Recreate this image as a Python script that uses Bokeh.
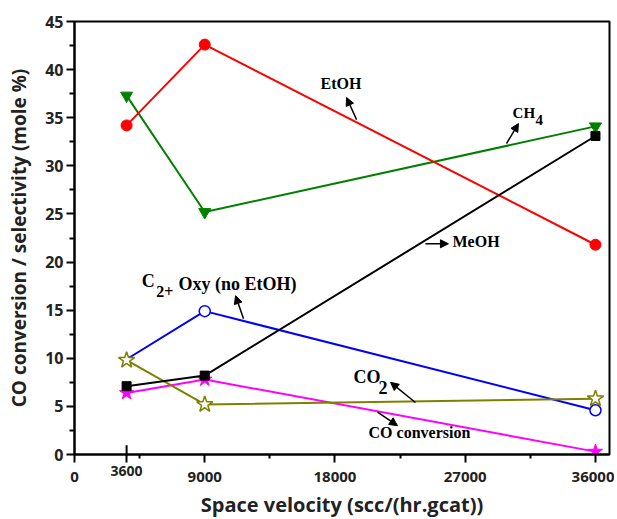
from bokeh.plotting import figure
from bokeh.models import FixedTicker, Label, Arrow, NormalHead, Range1d, LinearAxis
from bokeh.embed import file_html
from bokeh.resources import INLINE

# ---- data ----
space_velocity = [3600, 9000, 36000]
etoh = [34.2, 42.6, 21.8]
ch4 = [37.3, 25.2, 34.1]
meoh = [7.1, 8.2, 33.1]
c2_oxy = [9.9, 14.9, 4.6]
co2 = [9.8, 5.2, 5.8]
co_conversion = [6.4, 7.8, 0.3]

x_major = [0, 3600, 9000, 18000, 27000, 36000]
x_minor = [4500, 13500, 22500, 31500]
y_major = [0, 5, 10, 15, 20, 25, 30, 35, 40, 45]
y_minor = [2.5, 7.5, 12.5, 17.5, 22.5, 27.5, 32.5, 37.5, 42.5]

p = figure(frame_width=535, frame_height=433,
           x_range=Range1d(0, 36970), y_range=Range1d(0, 45),
           x_axis_location=None,
           output_backend="svg", toolbar_location=None,
           min_border_left=74, min_border_top=21, min_border_right=5, min_border_bottom=40)
p.background_fill_color = "white"
p.border_fill_color = "white"
p.grid.visible = False
p.outline_line_color = "black"
p.outline_line_width = 2
p.outline_line_alpha = 1

TXT = "#222222"

# axis A: all ticks, only the (raised) 3600 label
xa = LinearAxis(ticker=FixedTicker(ticks=x_major, minor_ticks=x_minor))
xa.major_label_overrides = {t: ("" if t != 3600 else "3600") for t in x_major}
xa.major_tick_in = 0
xa.major_tick_out = 8
xa.minor_tick_in = 0
xa.minor_tick_out = 4
xa.axis_line_width = 2
xa.major_tick_line_width = 2
xa.minor_tick_line_width = 2
xa.major_label_text_font = "Open Sans"
xa.major_label_text_font_style = "bold"
xa.major_label_text_font_size = "14px"
xa.major_label_text_color = TXT
xa.major_label_standoff = 3
p.add_layout(xa, "below")

# axis B: remaining labels and the axis title
labelled = [t for t in x_major if t != 3600]
xb = LinearAxis(ticker=FixedTicker(ticks=labelled, minor_ticks=[]))
xb.axis_line_color = None
xb.major_tick_line_color = None
xb.minor_tick_line_color = None
xb.major_tick_in = 0
xb.major_tick_out = 0
xb.minor_tick_in = 0
xb.minor_tick_out = 0
xb.major_label_text_font = "Open Sans"
xb.major_label_text_font_style = "bold"
xb.major_label_text_font_size = "15px"
xb.major_label_text_color = TXT
xb.major_label_standoff = -7
xb.axis_label = "Space velocity (scc/(hr.gcat))"
xb.axis_label_text_font = "Open Sans"
xb.axis_label_text_font_style = "bold"
xb.axis_label_text_font_size = "20px"
xb.axis_label_text_color = TXT
xb.axis_label_standoff = 6
p.add_layout(xb, "below")

ya = p.yaxis[0]
ya.ticker = FixedTicker(ticks=y_major, minor_ticks=y_minor)
ya.major_tick_in = 0
ya.major_tick_out = 8
ya.minor_tick_in = 0
ya.minor_tick_out = 5
ya.axis_line_width = 2
ya.major_tick_line_width = 2
ya.minor_tick_line_width = 2
ya.major_label_text_font = "Open Sans"
ya.major_label_text_font_style = "bold"
ya.major_label_text_font_size = "16px"
ya.major_label_text_color = TXT
ya.major_label_standoff = 3
ya.axis_label = "CO conversion / selectivity (mole %)"
ya.axis_label_text_font = "Open Sans"
ya.axis_label_text_font_style = "bold"
ya.axis_label_text_font_size = "19px"
ya.axis_label_text_color = TXT
ya.axis_label_standoff = 10

# inner part of the 3600 tick
p.segment(x0=[x_major[1]], y0=[0], x1=[x_major[1]], y1=[0.95], line_color="black", line_width=2)

# series
lw = 2
p.line(space_velocity, co_conversion, line_color="#ff00ff", line_width=lw)
p.scatter(space_velocity, co_conversion, marker="star", size=15, fill_color="#ff00ff", line_color="#ff00ff")
p.line(space_velocity, c2_oxy, line_color="#0000ff", line_width=lw)
p.scatter(space_velocity[1:], c2_oxy[1:], marker="circle", size=11, fill_color="white", line_color="#0000ff", line_width=1.5)
p.line(space_velocity, co2, line_color="#808000", line_width=lw)
p.scatter(space_velocity, co2, marker="star", size=17, fill_color="white", line_color="#808000", line_width=1.5)
p.line(space_velocity, ch4, line_color="#008000", line_width=lw)
p.scatter(space_velocity, ch4, marker="inverted_triangle", size=12, fill_color="#008000", line_color="#008000")
p.line(space_velocity, etoh, line_color="#ff0000", line_width=lw)
p.scatter(space_velocity, etoh, marker="circle", size=11, fill_color="#ff0000", line_color="#ff0000")
p.line(space_velocity, meoh, line_color="black", line_width=lw)
p.scatter(space_velocity, meoh, marker="square", size=9, fill_color="black", line_color="black")

# annotations
def lab(x, y, t, size="16px"):
    p.add_layout(Label(x=x, y=y + 0.6, text=t, text_font="Liberation Serif", text_font_style="bold",
                       text_font_size=size, text_color="black", text_baseline="alphabetic"))

def arr(x0, y0, x1, y1):
    p.add_layout(Arrow(x_start=x0, y_start=y0, x_end=x1, y_end=y1, line_width=1.5, line_color="black",
                       end=NormalHead(size=8, fill_color="black", line_color="black")))

lab(17000, 38.0, "EtOH")
arr(19490, 34.8, 18800, 37.1)
lab(30270, 34.9, "CH", "15px")
lab(31860, 34.2, "4", "15px")
arr(29850, 32.3, 30680, 34.4)
lab(26120, 21.5, "MeOH")
arr(24250, 21.9, 25840, 21.9)
lab(4650, 17.4, "C", "18px")
lab(5650, 16.3, "2+", "16px")
lab(7190, 17.1, "Oxy (no EtOH)", "18px")
arr(11680, 14.1, 11130, 16.5)
lab(19280, 7.5, "CO", "18px")
lab(21010, 6.4, "2", "18px")
arr(23560, 5.4, 21840, 7.5)
lab(20320, 1.66, "CO conversion", "16px")
arr(20940, 4.4, 22320, 3.0)

open("out.html", "w").write(file_html(p, INLINE))
